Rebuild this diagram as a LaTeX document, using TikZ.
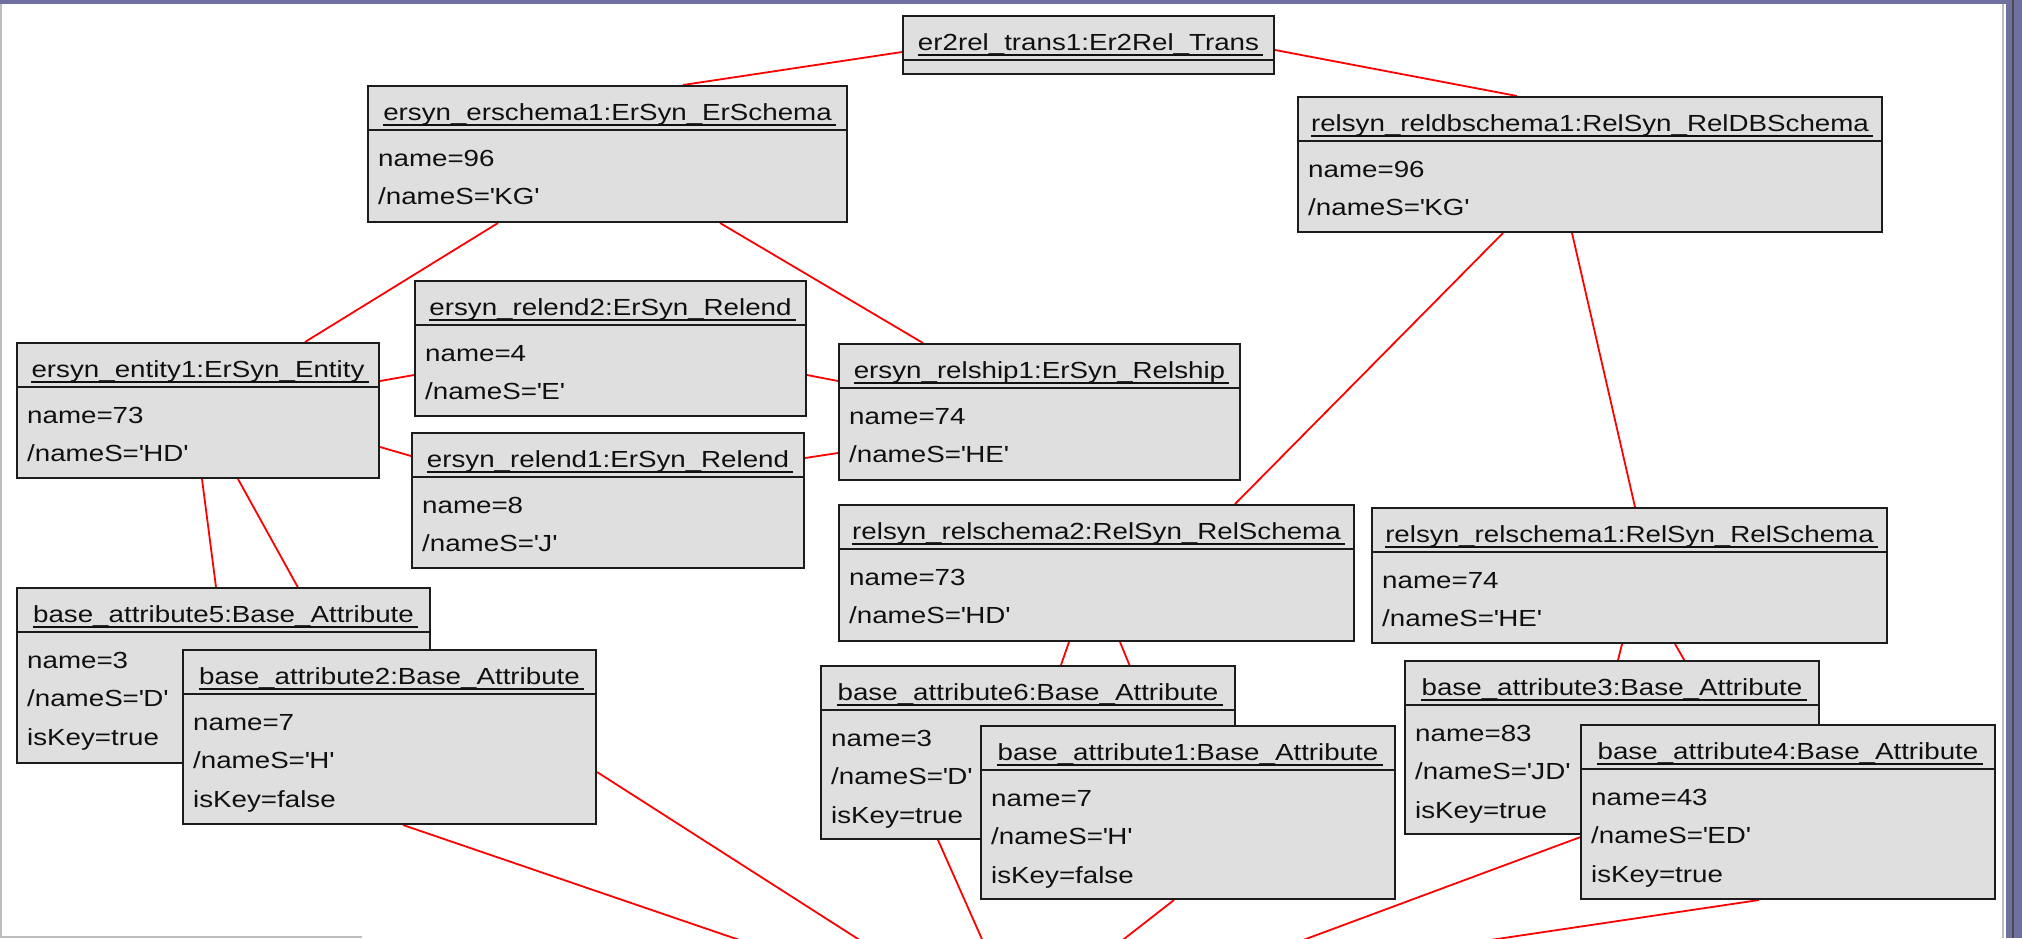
\documentclass[tikz,border=0pt]{standalone}
\usepackage{fontspec}
\usetikzlibrary{backgrounds}
\newfontfamily\umlfont[FakeStretch=1.19]{Liberation Sans}
\newcommand\qmark{\textquotesingle}

\definecolor{boxfill}{RGB}{223,223,223}
\definecolor{boxline}{RGB}{28,28,28}
\definecolor{txt}{RGB}{16,16,16}
\definecolor{linkred}{RGB}{255,0,0}
\definecolor{winframe}{RGB}{112,112,160}
\definecolor{winedge}{RGB}{190,190,190}

\tikzset{
  objfill/.style={draw=boxline, fill=boxfill, line width=2pt, inner sep=0pt, anchor=north west},
  titletext/.style={inner sep=0pt, anchor=base, text=txt, font=\umlfont\fontsize{23.3}{28}\selectfont},
  rowtext/.style={inner sep=0pt, anchor=base west, text=txt, font=\umlfont\fontsize{23.3}{28}\selectfont},
  sepline/.style={draw=boxline, line width=2pt},
  uline/.style={draw=txt, line width=1.6pt},
  link/.style={draw=linkred, line width=1.8pt},
}

% object box: name, x, y, width, height, title
\newcommand\umlhead[6]{%
  \node[objfill, minimum width=#4pt, minimum height=#5pt] (#1) at (#2,#3) {};
  \draw[sepline] ([yshift=-45pt]#1.north west) -- ([yshift=-45pt]#1.north east);
  \node[titletext] (#1-t) at ([yshift=-35pt]#1.north) {#6};
  \draw[uline] ([yshift=-5pt]#1-t.base west) -- ([xshift=4pt,yshift=-5pt]#1-t.base east);
}
% object box with attribute rows
\newcommand\umlobj[7]{%
  \umlhead{#1}{#2}{#3}{#4}{#5}{#6}
  \foreach \rowtxt [count=\i] in {#7} {
    \node[rowtext] (#1-r\i) at ([xshift=11pt, yshift={-81.5pt-(\i-1)*38.3pt}]#1.north west) {\rowtxt};
  }
}

\begin{document}
\begin{tikzpicture}[x=1pt, y=-1pt]
\useasboundingbox (0,0) rectangle (2022,938);
\clip (0,0) rectangle (2022,938);

% window frame
\fill[winframe] (0,0) rectangle (2022,4);
\fill[winframe] (2006,0) rectangle (2022,938);
\draw[black!70, line width=2pt] (2013,0) -- (2013,938);
\draw[winedge, line width=2pt] (2003,4) -- (2003,938);
\draw[winedge, line width=1.5pt] (1,4) -- (1,938);
\draw[winedge, line width=1.5pt] (0,937) -- (362,937);

% objects
\umlhead{tr}{902}{15}{371}{58}{er2rel\_trans1:Er2Rel\_Trans}
\umlobj{es}{367}{85}{479}{136}{ersyn\_erschema1:ErSyn\_ErSchema}{name=96, /nameS=\qmark KG\qmark}
\umlobj{db}{1297}{96}{584}{135}{relsyn\_reldbschema1:RelSyn\_RelDBSchema}{name=96, /nameS=\qmark KG\qmark}
\umlobj{en}{16}{342}{362}{135}{ersyn\_entity1:ErSyn\_Entity}{name=73, /nameS=\qmark HD\qmark}
\umlobj{re2}{414}{280}{391}{135}{ersyn\_relend2:ErSyn\_Relend}{name=4, /nameS=\qmark E\qmark}
\umlobj{re1}{411}{432}{392}{135}{ersyn\_relend1:ErSyn\_Relend}{name=8, /nameS=\qmark J\qmark}
\umlobj{rs}{838}{343}{401}{136}{ersyn\_relship1:ErSyn\_Relship}{name=74, /nameS=\qmark HE\qmark}
\umlobj{sc2}{838}{504}{515}{136}{relsyn\_relschema2:RelSyn\_RelSchema}{name=73, /nameS=\qmark HD\qmark}
\umlobj{sc1}{1371}{507}{515}{135}{relsyn\_relschema1:RelSyn\_RelSchema}{name=74, /nameS=\qmark HE\qmark}
\umlobj{a5}{16}{587}{413}{175}{base\_attribute5:Base\_Attribute}{name=3, /nameS=\qmark D\qmark, isKey=true}
\umlobj{a2}{182}{649}{413}{174}{base\_attribute2:Base\_Attribute}{name=7, /nameS=\qmark H\qmark, isKey=false}
\umlobj{a6}{820}{665}{414}{173}{base\_attribute6:Base\_Attribute}{name=3, /nameS=\qmark D\qmark, isKey=true}
\umlobj{a1}{980}{725}{414}{173}{base\_attribute1:Base\_Attribute}{name=7, /nameS=\qmark H\qmark, isKey=false}
\umlobj{a3}{1404}{660}{414}{173}{base\_attribute3:Base\_Attribute}{name=83, /nameS=\qmark JD\qmark, isKey=true}
\umlobj{a4}{1580}{724}{414}{174}{base\_attribute4:Base\_Attribute}{name=43, /nameS=\qmark ED\qmark, isKey=true}

% free ends of the links leaving the lower edge
\coordinate (e1) at (757,946);
\coordinate (e2) at (869,946);
\coordinate (e3) at (985,946);
\coordinate (e4) at (1115,946);
\coordinate (e5) at (1287,946);
\coordinate (e6) at (1450,946);

% links, behind the boxes
\begin{pgfonlayer}{background}
  \fill[white] (0,0) rectangle (2022,938);
  \draw[link] ([yshift=-37pt]tr.north west) -- ([xshift=316pt]es.north west);
  \draw[link] ([yshift=-35pt]tr.north east) -- ([xshift=220pt]db.north west);
  \draw[link] ([xshift=131pt]es.south west) -- ([xshift=289pt]en.north west);
  \draw[link] ([xshift=353pt]es.south west) -- ([xshift=85pt]rs.north west);
  \draw[link] ([yshift=-39pt]en.north east) -- ([yshift=-95pt]re2.north west);
  \draw[link] ([yshift=-105pt]en.north east) -- ([yshift=-24pt]re1.north west);
  \draw[link] ([yshift=-95pt]re2.north east) -- ([yshift=-38pt]rs.north west);
  \draw[link] ([yshift=-26pt]re1.north east) -- ([yshift=-110pt]rs.north west);
  \draw[link] ([xshift=206pt]db.south west) -- ([xshift=397pt]sc2.north west);
  \draw[link] ([xshift=275pt]db.south west) -- ([xshift=264pt]sc1.north west);
  \draw[link] ([xshift=186pt]en.south west) -- ([xshift=200pt]a5.north west);
  \draw[link] ([xshift=222pt]en.south west) -- ([xshift=150pt]a2.north west);
  \draw[link] ([xshift=231pt]sc2.south west) -- ([xshift=241pt]a6.north west);
  \draw[link] ([xshift=282pt]sc2.south west) -- ([xshift=174pt]a1.north west);
  \draw[link] ([xshift=251pt]sc1.south west) -- ([xshift=214pt]a3.north west);
  \draw[link] ([xshift=304pt]sc1.south west) -- ([xshift=141pt]a4.north west);
  \draw[link] ([xshift=221pt]a2.south west) -- (e1);
  \draw[link] ([yshift=-123pt]a2.north east) -- (e2);
  \draw[link] ([xshift=118pt]a6.south west) -- (e3);
  \draw[link] ([xshift=194pt]a1.south west) -- (e4);
  \draw[link] ([xshift=182pt]a3.south west) -- (e5);
  \draw[link] ([xshift=179pt]a4.south west) -- (e6);
\end{pgfonlayer}
\end{tikzpicture}
\end{document}
